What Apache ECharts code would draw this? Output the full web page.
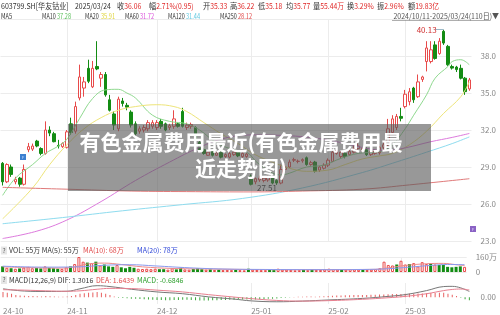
<!DOCTYPE html>
<html>
<head>
<meta charset="utf-8">
<script src="https://cdn.jsdelivr.net/npm/echarts/dist/echarts.min.js"></script>
<style>
html,body{margin:0;padding:0;background:#fff;}
#main{width:500px;height:315px;}
</style>
</head>
<body>
<div id="main"></div>
<script>
// 交易日
var dates = [
    '2024-10-11','2024-10-14','2024-10-15','2024-10-16','2024-10-17','2024-10-18','2024-10-21','2024-10-22','2024-10-23','2024-10-24','2024-10-25','2024-10-28','2024-10-29','2024-10-30','2024-10-31',
    '2024-11-01','2024-11-04','2024-11-05','2024-11-06','2024-11-07','2024-11-08','2024-11-11','2024-11-12','2024-11-13','2024-11-14','2024-11-15','2024-11-18','2024-11-19','2024-11-20','2024-11-21','2024-11-22','2024-11-25','2024-11-26','2024-11-27','2024-11-28','2024-11-29',
    '2024-12-02','2024-12-03','2024-12-04','2024-12-05','2024-12-06','2024-12-09','2024-12-10','2024-12-11','2024-12-12','2024-12-13','2024-12-16','2024-12-17','2024-12-18','2024-12-19','2024-12-20','2024-12-23','2024-12-24','2024-12-25','2024-12-26','2024-12-27','2024-12-30','2024-12-31',
    '2025-01-02','2025-01-03','2025-01-06','2025-01-07','2025-01-08','2025-01-09','2025-01-10','2025-01-13','2025-01-14','2025-01-15','2025-01-16','2025-01-17','2025-01-20','2025-01-21','2025-01-22','2025-01-23','2025-01-24','2025-01-27',
    '2025-02-05','2025-02-06','2025-02-07','2025-02-10','2025-02-11','2025-02-12','2025-02-13','2025-02-14','2025-02-17','2025-02-18','2025-02-19','2025-02-20','2025-02-21','2025-02-24','2025-02-25','2025-02-26','2025-02-27','2025-02-28',
    '2025-03-03','2025-03-04','2025-03-05','2025-03-06','2025-03-07','2025-03-10','2025-03-11','2025-03-12','2025-03-13','2025-03-14','2025-03-17','2025-03-18','2025-03-19','2025-03-20','2025-03-21','2025-03-24'
];

var opens = [29.3,27.8,29.0,27.8,28.1,27.6,30.4,30.45,31.1,30.5,30.1,32.0,31.7,30.75,30.65,
    30.6,32.5,31.9,34.6,35.4,37.0,35.5,37.15,36.2,36.5,34.45,33.3,32.1,34.35,34.0,33.45,32.5,31.9,32.0,32.1,32.3,
    32.2,32.7,32.5,32.2,32.3,32.5,33.5,32.2,32.3,32.2,31.0,30.4,29.95,30.35,29.95,30.2,29.85,29.8,30.0,30.2,29.85,29.85,
    28.25,27.8,27.95,27.9,27.95,28.1,27.9,27.7,28.8,29.0,29.55,29.45,29.5,29.75,29.2,29.4,28.75,28.9,
    29.15,29.45,30.1,29.85,30.1,30.0,30.2,30.5,30.3,30.4,30.0,30.1,30.15,30.6,30.8,31.8,32.2,33.1,
    33.9,34.3,35.4,34.7,36.1,37.55,37.55,38.9,38.2,40.0,38.78,37.15,37.1,37.0,36.2,35.33];
var closes = [27.8,29.2,28.4,28.0,27.6,28.8,30.65,30.7,30.7,30.1,32.0,31.75,31.05,30.7,30.9,
    31.85,31.8,33.9,36.3,35.9,35.95,37.0,36.95,36.5,34.85,33.6,32.4,34.5,34.15,33.85,32.4,31.7,32.1,32.2,32.6,32.6,
    32.6,32.3,32.0,32.35,32.9,32.3,32.3,32.4,32.45,31.3,30.4,30.1,30.2,29.95,30.15,29.8,30.0,30.1,30.2,29.9,30.1,30.05,
    27.6,28.05,28.1,28.1,28.15,27.7,27.7,28.8,29.0,29.4,29.6,29.47,29.6,29.2,29.35,28.65,29.0,29.15,
    29.55,30.2,30.35,30.2,29.85,30.25,30.5,30.7,30.5,30.0,30.25,30.3,30.6,30.8,32.1,32.9,33.1,32.95,
    34.9,35.1,34.45,35.9,36.3,38.65,38.5,37.8,39.2,39.05,37.29,37.02,36.9,36.2,35.11,36.06];
var lows = [27.5,27.7,28.2,27.6,27.4,27.5,30.2,30.3,30.6,29.95,30.0,31.5,31.0,30.5,30.55,
    30.5,31.6,31.7,34.4,34.7,35.8,35.4,36.85,35.5,34.7,33.5,32.0,31.9,33.9,33.6,32.2,31.55,31.7,31.8,31.9,32.1,
    32.0,32.1,31.9,32.0,32.1,32.2,32.2,32.0,32.1,31.2,30.3,30.0,29.9,29.85,29.9,29.7,29.75,29.7,29.9,29.8,29.75,29.75,
    27.51,27.6,27.8,27.75,27.8,27.6,27.55,27.6,28.6,28.9,29.4,29.3,29.35,29.1,29.1,28.55,28.6,28.8,
    29.0,29.4,30.0,29.7,29.7,29.9,30.1,30.3,30.2,29.9,29.9,30.0,30.0,30.4,30.7,31.7,32.0,32.7,
    33.75,34.0,34.2,34.6,35.9,36.75,37.4,37.7,38.1,38.9,37.2,36.9,36.7,36.1,34.85,35.18];
var highs = [29.4,29.3,29.2,28.2,28.2,29.2,30.95,30.9,31.2,30.6,32.7,32.3,31.85,31.2,31.0,
    32.0,33.0,34.3,37.3,36.3,37.7,37.6,39.2,36.7,36.7,34.85,33.5,34.7,34.6,34.2,33.6,32.7,32.3,32.4,32.8,32.8,
    32.8,32.9,32.6,32.5,33.6,32.6,33.8,32.6,32.6,32.3,31.1,30.5,30.3,30.4,30.25,30.3,30.1,30.2,30.35,30.3,30.2,30.15,
    28.4,28.15,28.3,28.25,28.3,28.2,28.0,29.2,29.2,29.6,29.75,29.6,29.7,29.85,29.5,29.5,29.1,29.3,
    29.7,30.3,30.6,30.3,30.2,30.4,30.7,30.9,30.6,30.6,30.35,30.4,30.7,31.0,32.9,33.2,33.3,33.8,
    35.25,35.4,35.5,36.5,36.4,39.2,39.2,39.2,39.45,40.13,38.9,37.3,37.2,37.3,36.3,36.22];

// 均线 [序号, 值]
var ma10Pts = [[0,26.7],[3,28.1],[7,29.2],[10,30.1],[13,30.7],[15,31.25],[18,32.95],[21,34.55],[24,35.25],[27,35.3],[29,35.0],[31,34.6],[35,33.2],[39,32.7],[43,32.5],[46,32.0],[50,30.95],[54,30.4],[57,30.2],[60,29.2],[65,28.35],[67,28.5],[71,29.0],[75,29.15],[79,29.7],[83,30.1],[88,30.25],[91,30.8],[94,32.1],[96,33.2],[99,34.85],[101,36.2],[104,37.15],[105,37.55],[107,37.7],[109,37.28]];
var ma20Pts = [[0,24.8],[7,27.3],[11,29.2],[15,30.8],[19,32.1],[23,33.0],[27,33.6],[31,33.9],[36,34.05],[40,33.9],[43,33.5],[47,32.6],[51,31.7],[55,30.9],[59,30.0],[63,29.4],[67,28.9],[71,28.65],[76,28.75],[80,29.2],[84,29.65],[88,29.9],[91,30.1],[95,30.8],[99,31.9],[103,33.35],[107,34.7],[109,35.91]];
var ma60Pts = [[0,23.2],[8,23.8],[15,24.7],[23,26.2],[31,27.9],[39,29.4],[46,30.6],[52,31.35],[58,31.6],[66,31.55],[75,31.25],[80,30.9],[86,30.45],[90,30.35],[94,30.55],[100,31.05],[105,31.4],[109,31.72]];
var ma120Pts = [[0,24.4],[14,24.9],[28,25.45],[42,25.95],[56,26.45],[70,27.3],[84,28.55],[91,29.3],[99,30.2],[105,30.9],[109,31.44]];
var ma250Pts = [[0,27.35],[15,27.2],[30,27.05],[45,27.0],[58,26.98],[70,27.05],[84,27.2],[95,27.55],[109,28.05]];

// 成交量(万)
var volumes = [60,45,40,35,38,48,55,40,42,38,60,45,40,35,33,
    50,60,85,160,110,100,95,110,70,80,60,55,75,50,40,55,45,35,32,35,30,
    35,30,30,25,40,28,45,28,25,32,40,30,25,28,22,25,20,22,20,22,20,18,
    35,25,22,20,20,22,20,35,25,25,22,18,20,25,20,28,22,22,
    28,35,30,25,28,25,30,28,25,30,22,25,30,40,110,75,70,80,
    120,80,85,95,60,105,85,90,80,75,75,55,50,55,60,55];
var vma10Pts = [[0,55],[8,45],[14,42],[17,55],[20,85],[24,95],[28,80],[33,55],[40,38],[48,32],[58,27],[68,24],[78,26],[88,28],[91,45],[95,70],[100,88],[104,92],[107,78],[109,68]];
var vma20Pts = [[0,62],[10,52],[18,55],[24,72],[30,78],[36,65],[44,45],[52,32],[62,27],[75,25],[85,27],[91,35],[96,52],[101,70],[105,80],[109,78]];

// MACD
var macdHist = [1.2,1.0,0.8,0.5,0.4,0.35,0.3,0.3,0.25,0.2,0.3,0.25,0.2,0.15,0.15,
    0.2,0.3,0.5,0.8,0.9,1.0,1.1,1.2,1.0,0.8,0.5,0.2,-0.1,-0.15,-0.2,
    -0.3,-0.35,-0.4,-0.45,-0.5,-0.55,-0.6,-0.6,-0.65,-0.65,-0.6,-0.6,-0.55,-0.55,-0.6,-0.65,-0.7,-0.7,-0.7,-0.65,-0.65,-0.6,-0.6,-0.55,-0.55,-0.5,-0.5,-0.5,
    -0.55,-0.5,-0.45,-0.4,-0.35,-0.3,-0.25,-0.15,-0.1,-0.05,0.05,0.1,
    0.15,0.2,0.2,0.15,0.2,0.25,0.3,0.35,0.4,0.4,0.45,0.45,0.5,0.5,0.5,0.5,0.55,0.55,0.6,0.65,0.7,0.75,0.75,0.75,
    0.8,0.8,0.8,0.85,0.85,0.9,0.95,0.95,1.0,1.0,0.8,0.55,0.3,-0.1,-0.45,-0.68];
var difPts = [[0,1.9],[5,1.4],[10,1.3],[15,1.35],[18,1.9],[22,2.6],[25,2.4],[30,1.8],[36,1.2],[42,0.8],[48,0.1],[54,-0.4],[58,-0.8],[64,-1.0],[70,-0.85],[76,-0.6],[84,-0.25],[90,0.2],[94,0.6],[99,1.5],[103,2.4],[105,2.45],[107,2.1],[109,1.3016]];
var deaPts = [[0,1.7],[5,1.6],[10,1.45],[15,1.35],[18,1.45],[22,1.8],[25,2.0],[30,1.95],[36,1.6],[42,1.2],[48,0.6],[54,0.05],[58,-0.3],[64,-0.7],[70,-0.85],[76,-0.75],[84,-0.45],[90,-0.1],[94,0.2],[99,0.8],[103,1.5],[105,1.75],[107,1.85],[109,1.6439]];

// 月份刻度
var monthIdx = [0, 15, 36, 58, 76, 94];
var monthLabels = ['24-10', '24-11', '24-12', '25-01', '25-02', '25-03'];

// 顶部行情
var quoteLabels = ['收', '幅', '开', '高', '低', '均', '量', '换', '振', '额'];
var quoteValues = ['36.06', '2.71%(0.95)', '35.33', '36.22', '35.18', '35.77', '55.44万', '3.29%', '2.96%', '19.83亿'];
var quoteX = [117, 149, 203, 230, 258, 286, 313, 347, 377, 408];
var maNames = ['MA10', 'MA20', 'MA60', 'MA120', 'MA250'];
var maValues = ['37.28', '35.91', '31.72', '31.44', '28.12'];
var maColors = ['#5cbf5c', '#e0d43a', '#d94fd9', '#62c8e0', '#e04848'];
var maLineColors = ['#8fd98f', '#eee57a', '#dd7add', '#8edcef', '#e07a7a'];
var maNameX = [42, 85, 125, 168, 220];
var maValX = [57, 101, 140, 186, 238];

var UP = '#e84a4a', DOWN = '#138c13', FONT = '"Noto Sans CJK SC", sans-serif';

function txt(x, y, s, color, size, align, sx) {
    return {
        type: 'text', x: x, y: y, z: 100, silent: true, scaleX: sx || 1,
        style: {
            text: s, fill: color, align: align || 'left', verticalAlign: 'middle',
            font: size + 'px ' + FONT
        }
    };
}

function pageInit() {
    var chart = echarts.init(document.getElementById('main'));

    var candle = dates.map(function (d, i) {
        return [opens[i], closes[i], lows[i], highs[i]];
    });
    var volData = volumes.map(function (v, i) {
        var up = closes[i] >= opens[i];
        return {
            value: v,
            itemStyle: up ? { color: '#fff', borderColor: UP, borderWidth: 1 } : { color: DOWN, borderColor: DOWN, borderWidth: 0 }
        };
    });
    var macdData = macdHist.map(function (v) {
        return { value: v, itemStyle: { color: v >= 0 ? '#e86060' : '#3aa63a' } };
    });

    function xAxis(gi, showLabel) {
        return {
            type: 'category', gridIndex: gi, data: dates, boundaryGap: true,
            axisLine: { show: false }, axisTick: { show: false },
            axisLabel: {
                show: showLabel, interval: function (i) { return monthIdx.indexOf(i) >= 0; },
                formatter: function (v, i) { return monthLabels[monthIdx.indexOf(i)]; },
                align: 'left', fontSize: 8, color: '#888', margin: 3
            },
            splitLine: {
                show: true, alignWithLabel: true,
                interval: function (i) { return i > 0 && monthIdx.indexOf(i) >= 0; },
                lineStyle: { color: '#ececec', width: 1 }
            }
        };
    }

    function maLine(name, pts, color, xi, yi) {
        return {
            name: name, type: 'line', xAxisIndex: xi, yAxisIndex: yi, data: pts,
            showSymbol: false, smooth: 0.4, silent: true,
            lineStyle: { color: color, width: 1 }, z: 3
        };
    }

    var graphics = [];
    graphics.push(txt(1, 6, '603799.SH[华友钴业]', '#333', 8, 'left', 0.88));
    graphics.push(txt(75, 6, '2025/03/24', '#333', 8, 'left', 0.86));
    quoteLabels.forEach(function (l, i) {
        graphics.push(txt(quoteX[i], 6, l, '#333', 8, 'left', 0.9));
        graphics.push(txt(quoteX[i] + 7.2, 6, quoteValues[i], '#e02828', 8, 'left', 0.85));
    });
    graphics.push(txt(1, 16, 'MA5', '#333', 7.5, 'left', 0.75));
    maNames.forEach(function (n, i) {
        graphics.push(txt(maNameX[i], 16, n, '#333', 7.5, 'left', 0.72));
        graphics.push(txt(maValX[i], 16, maValues[i], maColors[i], 7.5, 'left', 0.75));
    });
    graphics.push(txt(499, 16, '2024/10/11-2025/03/24(110日)▼', '#555', 7.5, 'right', 0.93));
    graphics.push({ type: 'line', z: 100, silent: true, shape: { x1: 392, y1: 20.5, x2: 490, y2: 20.5 }, style: { stroke: '#777', lineWidth: 0.6 } });

    // 标题遮罩
    graphics.push({ type: 'rect', z: 90, silent: true, shape: { x: 68, y: 124, width: 363, height: 67 }, style: { fill: 'rgba(88,88,88,0.62)' } });
    graphics.push({
        type: 'text', x: 241, y: 129, z: 100, silent: true,
        style: {
            text: '有色金属费用最近(有色金属费用最\n近走势图)', fill: '#fff', align: 'center', verticalAlign: 'top',
            font: 'bold 21px ' + FONT, lineHeight: 26
        }
    });

    // 事件标记
    graphics.push({ type: 'rect', z: 100, silent: true, shape: { x: 20, y: 154, width: 6, height: 6 }, style: { fill: '#3d80d0' } });
    graphics.push(txt(23, 157, 'F', '#cfe0ff', 4, 'center'));
    graphics.push({ type: 'rect', z: 100, silent: true, shape: { x: 470, y: 226, width: 6, height: 6 }, style: { fill: '#8a62c4' } });
    graphics.push(txt(473, 229, 'F', '#e6dcff', 4, 'center'));

    // 副图标题
    graphics.push({ type: 'rect', z: 100, silent: true, shape: { x: 1, y: 246.5, width: 6, height: 8 }, style: { fill: '#e6e6e6' } });
    graphics.push(txt(4, 250.5, '?', '#666', 6.5, 'center'));
    graphics.push(txt(9, 250.5, 'VOL: 55万 MA(5): 55万', '#333', 7));
    graphics.push(txt(83, 250.5, 'MA(10): 68万', '#e04848', 7));
    graphics.push(txt(137, 250.5, 'MA(20): 78万', '#3048d8', 7));
    graphics.push({ type: 'rect', z: 100, silent: true, shape: { x: 1, y: 276, width: 6, height: 8 }, style: { fill: '#e6e6e6' } });
    graphics.push(txt(4, 280, '?', '#666', 6.5, 'center'));
    graphics.push(txt(9, 280, 'MACD(12,26,9) DIF: 1.3016', '#333', 7));
    graphics.push(txt(96, 280, 'DEA: 1.6439', '#e04848', 7));
    graphics.push(txt(137, 280, 'MACD: -0.6846', '#2ea02e', 7));

    var option = {
        animation: false,
        backgroundColor: '#fff',
        textStyle: { fontFamily: FONT },
        grid: [
            { left: 0.5, width: 471, top: 19, height: 222 },
            { left: 0.5, width: 471, top: 257, height: 15 },
            { left: 0.5, width: 471, top: 283, height: 21 }
        ],
        xAxis: [xAxis(0, false), xAxis(1, false), xAxis(2, true)],
        yAxis: [
            {
                gridIndex: 0, position: 'right', min: 23, max: 41, interval: 3, scale: true,
                axisLine: { show: false }, axisTick: { show: false },
                axisLabel: { showMaxLabel: false, fontSize: 8, color: '#888', margin: 9, formatter: function (v) { return v.toFixed(1); } },
                splitLine: { lineStyle: { color: '#ececec' } }
            },
            {
                gridIndex: 1, position: 'right', min: 0, max: 160, interval: 160,
                axisLine: { show: false }, axisTick: { show: false },
                axisLabel: { fontSize: 8, color: '#888', margin: 9, formatter: function (v) { return v === 0 ? '0' : v + '万'; } },
                splitLine: { lineStyle: { color: '#ececec' } }
            },
            {
                gridIndex: 2, position: 'right', min: -1.5, max: 3.2, interval: 1.5,
                axisLine: { show: false }, axisTick: { show: false },
                axisLabel: { fontSize: 8, color: '#888', margin: 9, formatter: function (v) { return v === 0 ? '0.00' : ''; } },
                splitLine: { show: false }
            }
        ],
        graphic: graphics,
        series: [
            {
                type: 'candlestick', xAxisIndex: 0, yAxisIndex: 0, data: candle, barWidth: 3,
                itemStyle: { color: '#fff', color0: DOWN, borderColor: UP, borderColor0: DOWN, borderWidth: 1 },
                markPoint: {
                    symbol: 'circle', symbolSize: 0, silent: true,
                    data: [
                        { coord: [dates[103], 40.13], label: { show: true, position: 'left', distance: 7, formatter: '40.13', color: '#d03030', fontSize: 8 } },
                        { coord: [dates[58], 27.51], label: { show: true, position: 'right', distance: 6, offset: [0, 3], formatter: '27.51', color: '#333', fontSize: 8 } }
                    ]
                },
                markLine: {
                    symbol: 'none', silent: true, label: { show: false },
                    lineStyle: { color: '#9bb8c8', width: 1, type: 'solid' },
                    data: [[{ coord: [dates[101], 40.13] }, { coord: [dates[103], 40.13] }]]
                }
            },
            maLine('MA10', ma10Pts, maLineColors[0], 0, 0),
            maLine('MA20', ma20Pts, maLineColors[1], 0, 0),
            maLine('MA60', ma60Pts, maLineColors[2], 0, 0),
            maLine('MA120', ma120Pts, maLineColors[3], 0, 0),
            maLine('MA250', ma250Pts, maLineColors[4], 0, 0),
            { type: 'bar', xAxisIndex: 1, yAxisIndex: 1, data: volData, barWidth: 3, silent: true },
            maLine('VMA10', vma10Pts, '#ee8a8a', 1, 1),
            maLine('VMA20', vma20Pts, '#8a9aee', 1, 1),
            { type: 'bar', xAxisIndex: 2, yAxisIndex: 2, data: macdData, barWidth: 1, silent: true },
            maLine('DIF', difPts, '#777', 2, 2),
            maLine('DEA', deaPts, '#e88090', 2, 2)
        ]
    };
    chart.setOption(option);
}

window.onload = function () {
    pageInit();
}
</script>
</body>
</html>
